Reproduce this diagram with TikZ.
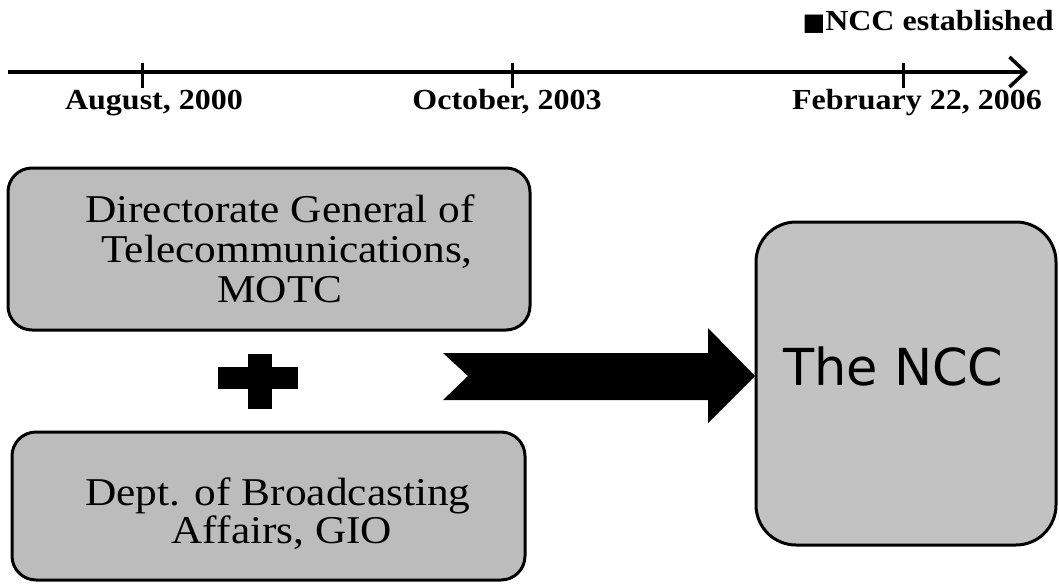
\documentclass[tikz,border=0pt]{standalone}
\usepackage{fontspec}
\setmainfont{Liberation Serif}
\newfontfamily\tnr[FakeStretch=1.1]{Liberation Serif}
\newfontfamily\dvs{DejaVu Sans}
\usetikzlibrary{arrows.meta}
\definecolor{boxgray}{RGB}{188,188,188}
\definecolor{nccgray}{RGB}{194,194,194}
\tikzset{
  orgbox/.style={draw=black, line width=3pt, fill=boxgray, rounded corners=24pt, inner sep=0pt},
  nccbox/.style={draw=black, line width=3pt, fill=nccgray, rounded corners=40pt, inner sep=0pt},
  boxtext/.style={font=\tnr\fontsize{39.4}{40}\selectfont, anchor=base, inner sep=0pt},
  datelabel/.style={font=\tnr\bfseries\fontsize{29.1}{30}\selectfont, anchor=base, inner sep=0pt},
  tickline/.style={line width=3pt},
  timeline/.style={line width=4pt, -{Straight Barb[length=16pt,width=30pt,line width=3.5pt]}}
}
\begin{document}
\begin{tikzpicture}[x=1pt,y=-1pt]
\useasboundingbox (0,0) rectangle (1059,583);
% timeline
\coordinate (tl0) at (8,72);
\coordinate (tl1) at (1028,72);
\draw[timeline] (tl0) -- (tl1);
\draw[tickline] (142,63) -- (142,88);
\draw[tickline] (512,63) -- (512,88);
\draw[tickline] (903,63) -- (903,88);
\node[datelabel] (d1) at (154,110) {August, 2000};
\node[datelabel] (d2) at (507,110) {October, 2003};
\node[datelabel] (d3) at (917,110) {February 22, 2006};
\node[datelabel, anchor=base east] (est) at (1054,31) {{\dvs\fontsize{24}{30}\selectfont ■}NCC established};
% boxes
\node[orgbox, minimum width=522pt, minimum height=162pt] (dgt) at (269,249) {};
\node[orgbox, minimum width=513pt, minimum height=148pt] (gio) at (268.5,506) {};
\node[nccbox, minimum width=300pt, minimum height=323pt] (ncc) at (906,383.5) {};
\node[boxtext] (dgt1) at (280,222) {Directorate General of};
\node[boxtext] (dgt2) at (287,262) {Telecommunications,};
\node[boxtext] (dgt3) at (280,302) {MOTC};
\node[boxtext] (gio1) at (278,505) {Dept. of Broadcasting};
\node[boxtext] (gio2) at (282,543) {Affairs, GIO};
\node[font=\dvs\fontsize{51}{60}\selectfont, anchor=base west, inner sep=0pt] (ncct) at (783,385) {The NCC};
% plus sign
\fill (218,367) rectangle (298,389);
\fill (248,354) rectangle (272,409);
% block arrow
\fill (443,353) -- (708,353) -- (708,328) -- (755,376) -- (708,423) -- (708,400) -- (443,400) -- (468,376) -- cycle;
\end{tikzpicture}
\end{document}
